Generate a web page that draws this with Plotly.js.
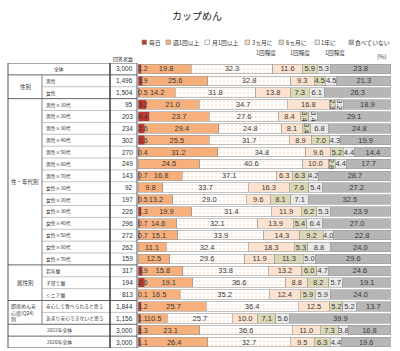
<!DOCTYPE html>
<html><head><meta charset="utf-8">
<script src="https://cdn.plot.ly/plotly-3.0.1.min.js"></script>
<style>html,body{margin:0;padding:0;background:#fff}#chart{width:400px;height:351px}</style>
</head><body><div id="chart"></div>
<script>
// ---- data ----
const rows = ['全体','男性','女性','男性×10代','男性×20代','男性×30代','男性×40代','男性×50代','男性×60代','男性×70代',
  '女性×10代','女性×20代','女性×30代','女性×40代','女性×50代','女性×60代','女性×70代',
  '若年層','子育て層','シニア層','安心して食べられると思う','あまり安心できないと思う','2022年全体','2020年全体'];
const counts = ['3,000','1,496','1,504','95','203','234','302','270','249','143',
  '92','197','226','296','272','262','159','317','194','813','1,844','1,156','3,000','3,000'];
const groups = [
  {label:'性別', from:1, to:2},
  {label:'性・年代別', from:3, to:16},
  {label:'属性別', from:17, to:19},
  {label:'即席めん安<br>心度(Q24)<br>別', from:20, to:21, left:true}
];
const spanRows = [0, 22, 23];
const seriesNames = ['毎日','週1回以上','月1回以上','3ヵ月に 1回程度','6ヵ月に 1回程度','1年に 1回程度','食べていない'];
const daily   = [1.2,1.9,0.5,3.2,4.4,2.6,2.6,0.4,0,0.7,0,0.5,1.3,0.7,0.7,0,0,1.9,2.6,0.1,1.2,1.1,1.3,1.1];
const weekly  = [19.8,25.6,14.2,21.0,23.7,29.4,25.5,31.2,24.5,16.8,9.8,13.2,19.9,14.6,15.1,11.1,12.5,15.8,19.1,16.5,25.7,10.5,23.1,26.4];
const monthly = [32.3,32.8,31.8,34.7,27.6,24.8,31.7,34.8,40.6,37.1,33.7,29.0,31.4,32.1,33.9,32.4,29.6,33.8,36.6,35.2,36.4,25.7,36.6,32.7];
const month3  = [11.6,9.3,13.8,16.8,8.4,8.1,8.9,9.6,10.0,6.3,16.3,9.6,11.9,13.9,14.3,18.3,11.9,13.2,8.8,12.4,12.5,10.0,11.0,9.5];
const month6  = [5.9,4.5,7.3,2.3,3.4,3.4,7.0,5.2,2.8,6.3,7.6,8.1,6.2,5.4,9.2,5.3,11.3,6.0,8.2,5.9,5.2,7.1,7.3,6.3];
const yearly  = [5.3,4.5,6.1,3.2,3.4,6.8,4.3,4.4,4.4,4.2,5.4,7.1,5.3,6.4,4.0,8.8,5.0,4.7,5.7,5.9,5.2,5.6,3.8,4.4];
const never   = [23.8,21.3,26.3,18.9,29.1,24.8,19.9,14.4,17.7,28.7,27.2,32.5,23.9,27.0,22.8,24.0,29.6,24.6,19.1,24.0,13.7,39.9,16.8,19.6];

// ---- styles ----
const allSeries = [daily, weekly, monthly, month3, month6, yearly, never];
const fills = ['#c0392f','#f7b07b','#ffffff','#fde3cf','#dbd8b6','#e9e9e9','#b6b6b6'];
const patterns = [null,null,
  {shape:'.', bgcolor:'#ffffff', fgcolor:'#f8d6be', size:4, solidity:0.15},
  {shape:'x', bgcolor:'#fde6d5', fgcolor:'#f4c4a2', size:3, solidity:0.15},
  null,null,null];
const W=400, H=351, L=138, R=9, T=63, B=3;
const PW = W-L-R, PH = H-T-B;
const px = x => (x-L)/PW;
const py = y => (H-B-y)/PH;
const CJK = '"Noto Sans CJK JP", "Noto Sans", sans-serif';
const NUM = '"Liberation Sans", Arial, sans-serif';
const fmt = v => v>0 ? v.toFixed(1) : '';
const VAL_SIZE = 7.5;

const traces = allSeries.map((vals,i)=>{
  const m = {color: fills[i], line:{color:'#9a9a9a', width:0.6}};
  if (patterns[i]) m.pattern = patterns[i];
  return {
    type:'bar', orientation:'h', name: seriesNames[i],
    y: rows, x: vals,
    text: i===0 ? vals.map(()=> '') : vals.map(fmt),
    textposition:'inside',
    insidetextanchor:'middle',
    constraintext:'none',
    textfont:{family:NUM, size:VAL_SIZE, color:'#3a3a3a'},
    marker: m, hoverinfo:'none', showlegend:false
  };
});

// ---- table shapes ----
const shapes = [];
const dark = '#555', light = '#b5b5b5';
function hline(y, x0, x1, color, w){ shapes.push({type:'line', xref:'paper', yref:'y', x0:px(x0), x1:px(x1), y0:y, y1:y, line:{color:color, width:w}}); }
function vline(x, y0, y1, color, w){ shapes.push({type:'line', xref:'paper', yref:'y', x0:px(x), x1:px(x), y0:y0, y1:y1, line:{color:color, width:w}}); }
const n = rows.length;
const isFull = i => spanRows.includes(i) || spanRows.includes(i+1) || groups.some(g=>g.to===i);
for (let i=0;i<n-1;i++){ if (!isFull(i)) hline(i+0.5, 42, 137, light, 0.8); }
for (let i=0;i<n-1;i++){ if (isFull(i)) hline(i+0.5, 8, 137, dark, 0.9); }
hline(-0.5, 8, 137, dark, 1);
hline(n-0.5, 8, 137, dark, 1);
vline(8, -0.5, n-0.5, dark, 1);
vline(137, -0.5, n-0.5, dark, 1);
vline(110, -0.5, n-0.5, '#444', 1.6);
vline(42, 0.5, 21.5, '#777', 0.9);

// ---- annotations ----
const ann = [];
rows.forEach((r,i)=>{
  if (spanRows.includes(i)) {
    ann.push({xref:'paper', yref:'y', x:px(59), y:i, text:r, showarrow:false, xanchor:'center', yanchor:'middle', font:{family:CJK, size:4.8, color:'#333'}});
  } else {
    ann.push({xref:'paper', yref:'y', x:px(44), y:i, text:r, showarrow:false, xanchor:'left', yanchor:'middle', font:{family:CJK, size:4.8, color:'#333'}});
  }
  ann.push({xref:'paper', yref:'y', x:px(134.5), y:i, text:counts[i], showarrow:false, xanchor:'right', yanchor:'middle', font:{family:NUM, size:6.5, color:'#333'}});
  // daily value labels, anchored at the start of the bar
  if (daily[i] > 0) ann.push({xref:'x', yref:'y', x:0, y:i, text:fmt(daily[i]), showarrow:false, xanchor:'left', yanchor:'middle', xshift:-1.5, borderpad:0, font:{family:NUM, size:7, color:'#3a3a3a'}});
});
groups.forEach(g=>{
  ann.push({xref:'paper', yref:'y', x: g.left ? px(9) : px(25), y:(g.from+g.to)/2, text:g.label, showarrow:false,
    xanchor: g.left ? 'left' : 'center', align: g.left ? 'left':'center', yanchor:'middle',
    font:{family:CJK, size:g.left?5:5.5, color:'#333'}});
});
ann.push({xref:'paper', yref:'paper', x:px(123), y:py(59), text:'回答者数', showarrow:false, xanchor:'center', yanchor:'middle', font:{family:CJK, size:5, color:'#333'}});
// legend
const legSq = [142,166,205,245,279,315,349];
const legTx = [147,171,210,250,284,319,353];
const legLines = seriesNames.map(s=>s.split(' '));
seriesNames.forEach((s,i)=>{
  shapes.push({type:'rect', xref:'paper', yref:'paper', x0:px(legSq[i]), x1:px(legSq[i]+4.5), y0:py(44.5), y1:py(40),
    fillcolor: i===2 ? '#ffffff' : (i===3 ? '#fbd9c2' : fills[i]), line:{color:'#888', width:0.6}});
  ann.push({xref:'paper', yref:'paper', x:px(legTx[i]), y:py(42.3), text:legLines[i][0], showarrow:false, xanchor:'left', yanchor:'middle', font:{family:CJK, size:5.8, color:'#333'}});
  if (legLines[i][1]) ann.push({xref:'paper', yref:'paper', x:px(legTx[i]+3.5), y:py(52.5), text:legLines[i][1], showarrow:false, xanchor:'left', yanchor:'middle', font:{family:CJK, size:5.6, color:'#333'}});
});
ann.push({xref:'paper', yref:'paper', x:px(389), y:py(57), text:'(%)', showarrow:false, xanchor:'right', yanchor:'middle', font:{family:CJK, size:6, color:'#333'}});

const layout = {
  width:W, height:H, margin:{l:L, r:R, t:T, b:B},
  paper_bgcolor:'#ffffff', plot_bgcolor:'#ffffff',
  title:{text:'カップめん', x:197/W, xref:'container', xanchor:'center', y:1-16/H, yref:'container', yanchor:'middle', font:{family:CJK, size:10, color:'#222'}},
  barmode:'stack', bargap:0.2, showlegend:false,
  xaxis:{range:[0,100], visible:false, fixedrange:true},
  yaxis:{type:'category', categoryarray:rows, range:[n-0.5,-0.5], visible:false, fixedrange:true},
  shapes:shapes, annotations:ann
};
Plotly.newPlot('chart', traces, layout, {staticPlot:true});
</script></body></html>
